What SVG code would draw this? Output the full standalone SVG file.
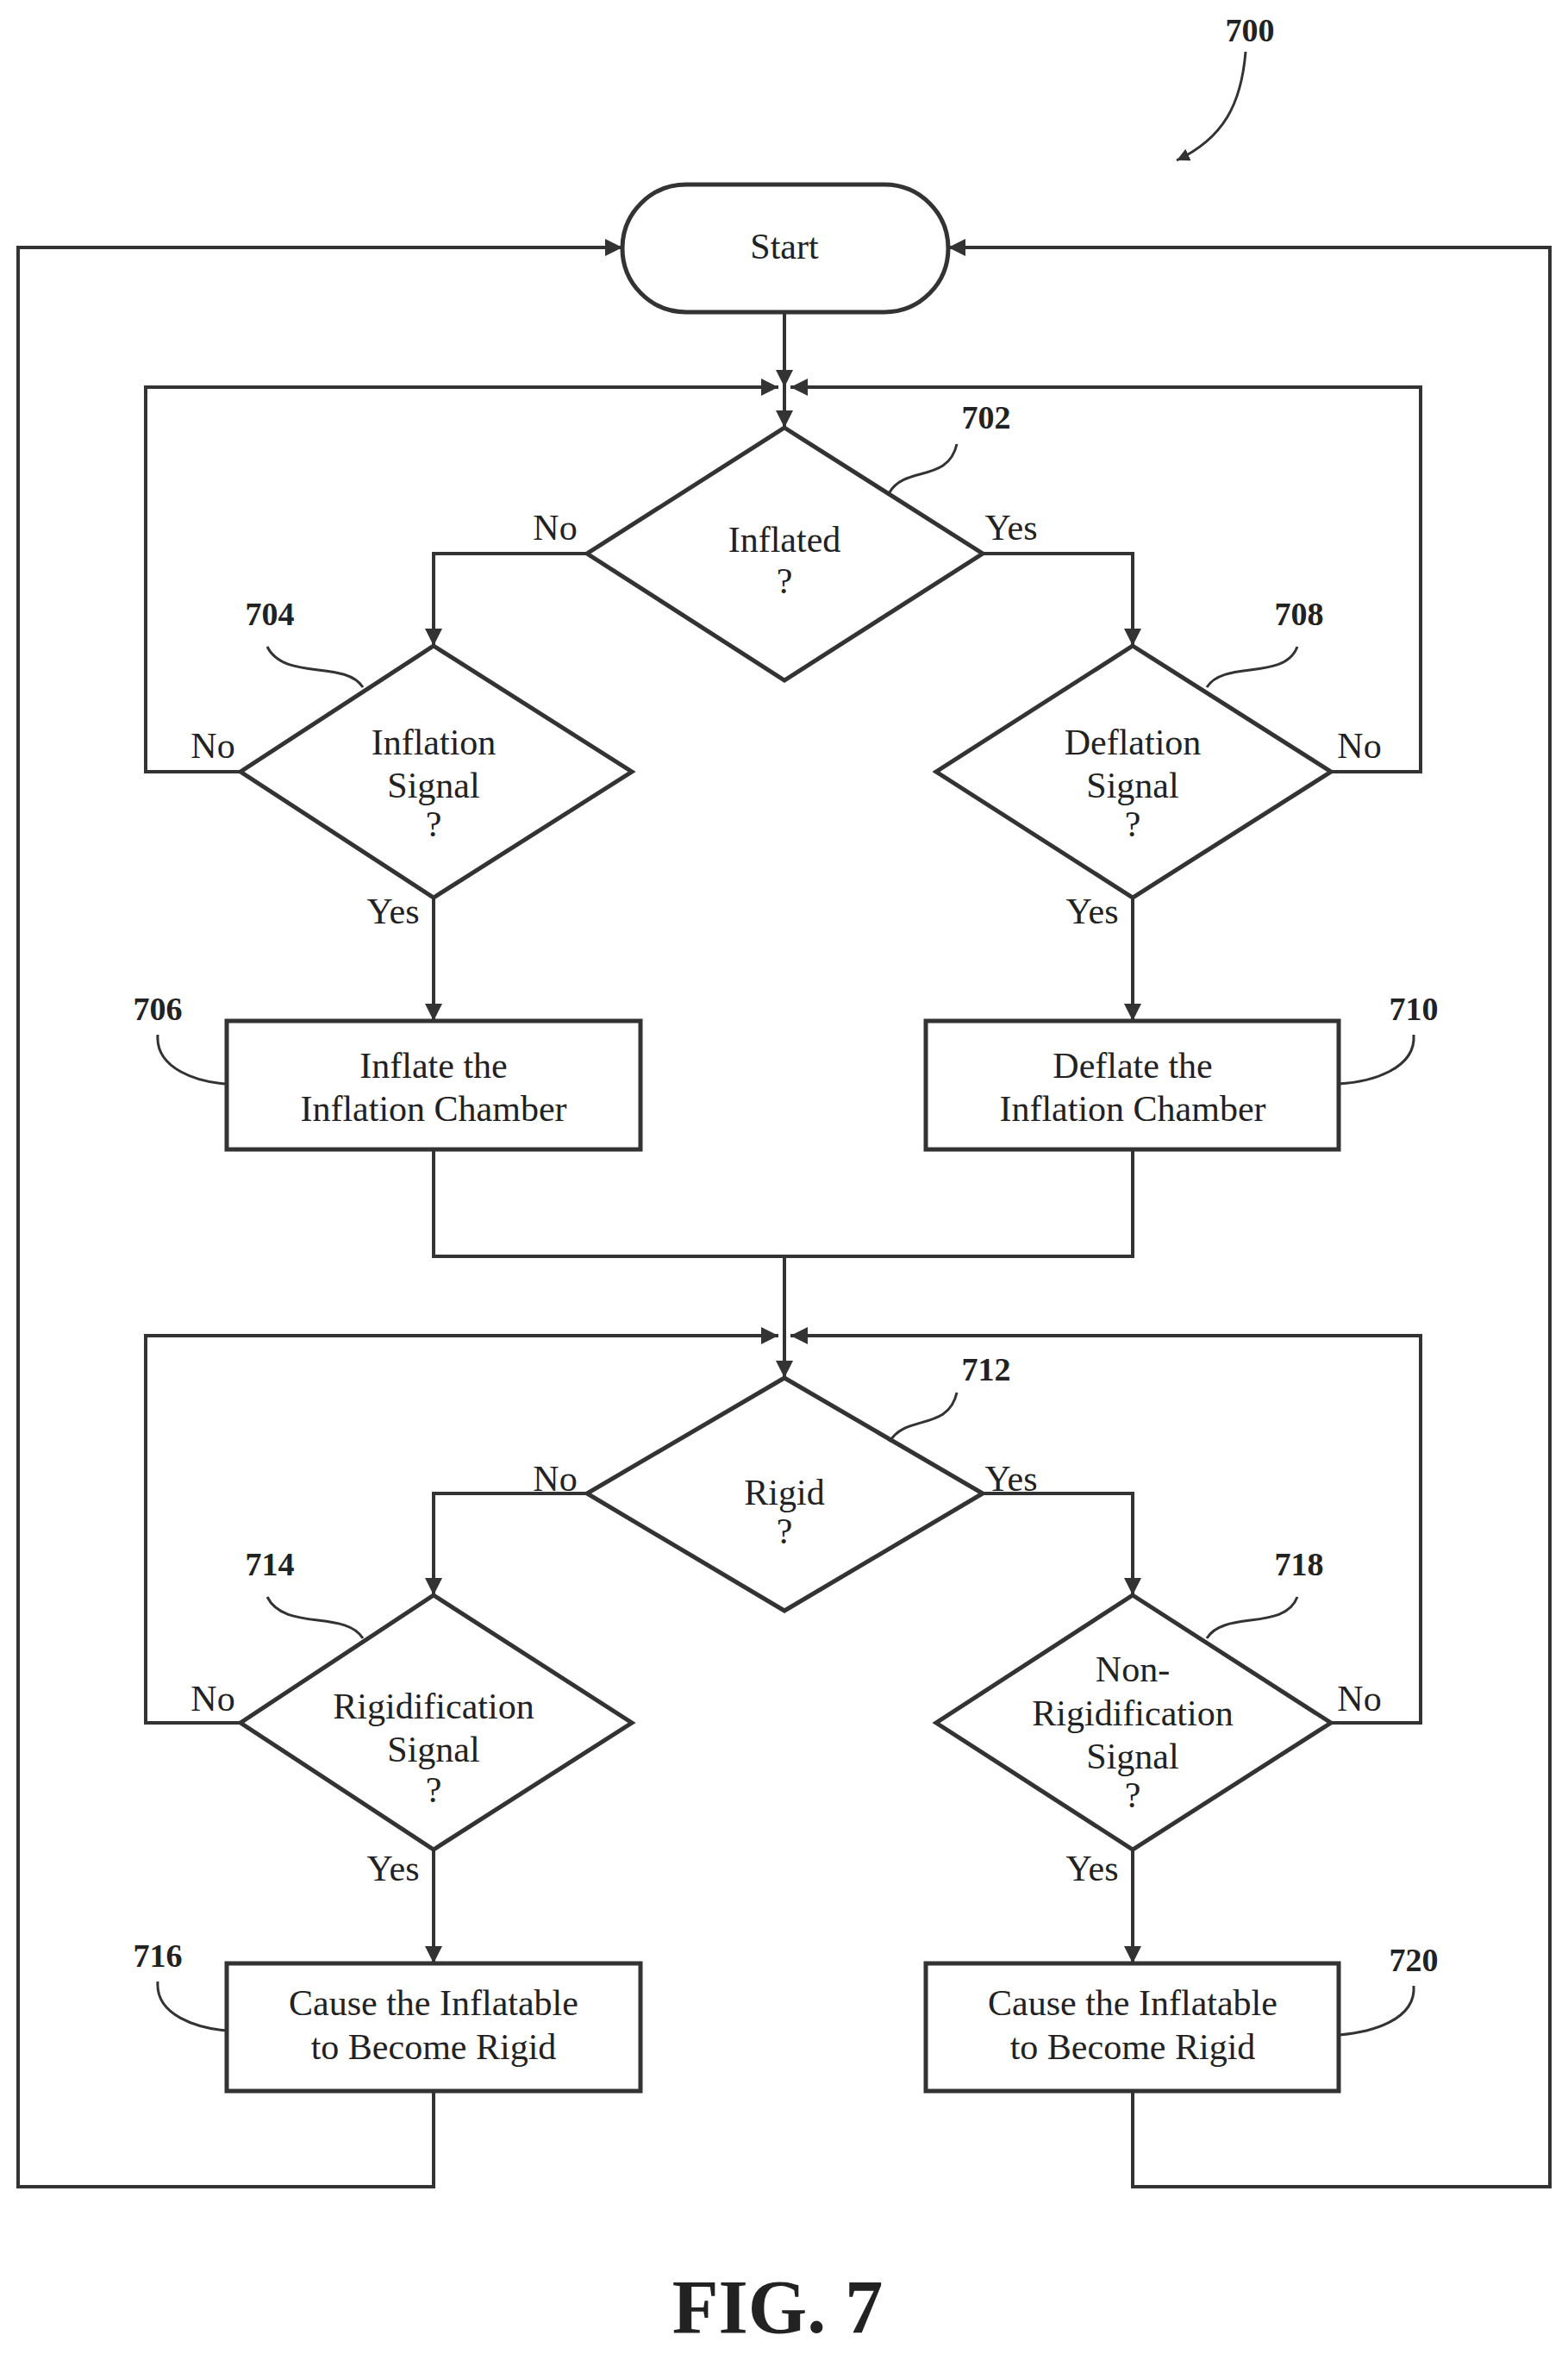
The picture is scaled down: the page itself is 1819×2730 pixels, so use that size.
<svg xmlns="http://www.w3.org/2000/svg" width="1819" height="2730" viewBox="0 0 1819 2730">
<style>
.s{fill:none;stroke:#333;stroke-width:4}
.n{fill:#fff;stroke:#333;stroke-width:5}
.t{font-family:"Liberation Serif",serif;font-size:42px;fill:#222;text-anchor:middle}
.r{font-family:"Liberation Serif",serif;font-size:38px;font-weight:bold;fill:#222;text-anchor:middle}
.l{fill:none;stroke:#333;stroke-width:3}
</style>
<defs><marker id="a" viewBox="0 0 10 10" refX="10" refY="5" markerWidth="5" markerHeight="5" orient="auto"><path d="M0,0L10,5L0,10z" fill="#333"/></marker></defs>
<rect width="1819" height="2730" fill="#fff"/>
<g id="connectors">
<path class="s" d="M910,362V449" marker-end="url(#a)"/>
<path class="s" d="M910,449V496" marker-end="url(#a)"/>
<path class="s" d="M681,642H503V749" marker-end="url(#a)"/>
<path class="s" d="M1140,642H1314V749" marker-end="url(#a)"/>
<path class="s" d="M279,895H169V449H903" marker-end="url(#a)"/>
<path class="s" d="M1544,895H1648V449H917" marker-end="url(#a)"/>
<path class="s" d="M503,1041V1184" marker-end="url(#a)"/>
<path class="s" d="M1314,1041V1184" marker-end="url(#a)"/>
<path class="s" d="M503,1333V1457H1314V1333M910,1457V1598" marker-end="url(#a)"/>
<path class="s" d="M681,1732H503V1850" marker-end="url(#a)"/>
<path class="s" d="M1140,1732H1314V1850" marker-end="url(#a)"/>
<path class="s" d="M279,1998H169V1549H903" marker-end="url(#a)"/>
<path class="s" d="M1544,1998H1648V1549H917" marker-end="url(#a)"/>
<path class="s" d="M503,2145V2277" marker-end="url(#a)"/>
<path class="s" d="M1314,2145V2277" marker-end="url(#a)"/>
<path class="s" d="M503,2425V2536H21V287H722" marker-end="url(#a)"/>
<path class="s" d="M1314,2425V2536H1798V287H1100" marker-end="url(#a)"/>
<text class="t" x="644" y="626">No</text><text class="t" x="1173" y="626">Yes</text>
<text class="t" x="247" y="879">No</text><text class="t" x="1577" y="879">No</text>
<text class="t" x="456" y="1071">Yes</text><text class="t" x="1267" y="1071">Yes</text>
<text class="t" x="644" y="1729">No</text><text class="t" x="1173" y="1729">Yes</text>
<text class="t" x="247" y="1984">No</text><text class="t" x="1577" y="1984">No</text>
<text class="t" x="456" y="2181">Yes</text><text class="t" x="1267" y="2181">Yes</text>
</g>
<g id="start"><rect class="n" x="722" y="214" width="378" height="148" rx="74"/><text class="t" x="910" y="300">Start</text></g>
<g id="n702"><path class="n" d="M910,496L1140,642L910,789L681,642z"/><text class="t" x="910" y="640">Inflated</text><text class="t" x="910" y="688">?</text></g>
<g id="n704"><path class="n" d="M503,749L733,895L503,1041L279,895z"/><text class="t" x="503" y="875">Inflation</text><text class="t" x="503" y="925">Signal</text><text class="t" x="503" y="970">?</text></g>
<g id="n708"><path class="n" d="M1314,749L1544,895L1314,1041L1086,895z"/><text class="t" x="1314" y="875">Deflation</text><text class="t" x="1314" y="925">Signal</text><text class="t" x="1314" y="970">?</text></g>
<g id="n706"><rect class="n" x="263" y="1184" width="480" height="149"/><text class="t" x="503" y="1250">Inflate the</text><text class="t" x="503" y="1300">Inflation Chamber</text></g>
<g id="n710"><rect class="n" x="1074" y="1184" width="479" height="149"/><text class="t" x="1314" y="1250">Deflate the</text><text class="t" x="1314" y="1300">Inflation Chamber</text></g>
<g id="n712"><path class="n" d="M910,1598L1140,1732L910,1868L681,1732z"/><text class="t" x="910" y="1745">Rigid</text><text class="t" x="910" y="1790">?</text></g>
<g id="n714"><path class="n" d="M503,1850L733,1998L503,2145L279,1998z"/><text class="t" x="503" y="1993">Rigidification</text><text class="t" x="503" y="2043">Signal</text><text class="t" x="503" y="2090">?</text></g>
<g id="n718"><path class="n" d="M1314,1850L1544,1998L1314,2145L1086,1998z"/><text class="t" x="1314" y="1950">Non-</text><text class="t" x="1314" y="2001">Rigidification</text><text class="t" x="1314" y="2051">Signal</text><text class="t" x="1314" y="2096">?</text></g>
<g id="n716"><rect class="n" x="263" y="2277" width="480" height="148"/><text class="t" x="503" y="2337">Cause the Inflatable</text><text class="t" x="503" y="2388">to Become Rigid</text></g>
<g id="n720"><rect class="n" x="1074" y="2277" width="479" height="148"/><text class="t" x="1314" y="2337">Cause the Inflatable</text><text class="t" x="1314" y="2388">to Become Rigid</text></g>
<g id="refs">
<text class="r" x="1450" y="48">700</text><path class="l" d="M1445,60C1440,120 1420,160 1365,186" marker-end="url(#a)"/>
<text class="r" x="1144" y="497">702</text><path class="l" d="M1032,571C1050,540 1100,560 1110,515"/>
<text class="r" x="313" y="725">704</text><path class="l" d="M310,750C330,790 400,765 421,797"/>
<text class="r" x="1507" y="725">708</text><path class="l" d="M1505,750C1490,790 1420,765 1400,797"/>
<text class="r" x="183" y="1183">706</text><path class="l" d="M183,1200C180,1240 230,1255 263,1257"/>
<text class="r" x="1640" y="1183">710</text><path class="l" d="M1640,1200C1643,1240 1590,1255 1553,1257"/>
<text class="r" x="1144" y="1601">712</text><path class="l" d="M1032,1672C1050,1640 1100,1660 1110,1615"/>
<text class="r" x="313" y="1827">714</text><path class="l" d="M310,1852C330,1892 400,1867 421,1900"/>
<text class="r" x="1507" y="1827">718</text><path class="l" d="M1505,1852C1490,1892 1420,1867 1400,1900"/>
<text class="r" x="183" y="2281">716</text><path class="l" d="M183,2298C180,2338 230,2352 263,2355"/>
<text class="r" x="1640" y="2286">720</text><path class="l" d="M1640,2303C1643,2343 1590,2357 1553,2360"/>
<text class="r" x="902" y="2705" style="font-size:88px">FIG. 7</text>
</g>
</svg>
